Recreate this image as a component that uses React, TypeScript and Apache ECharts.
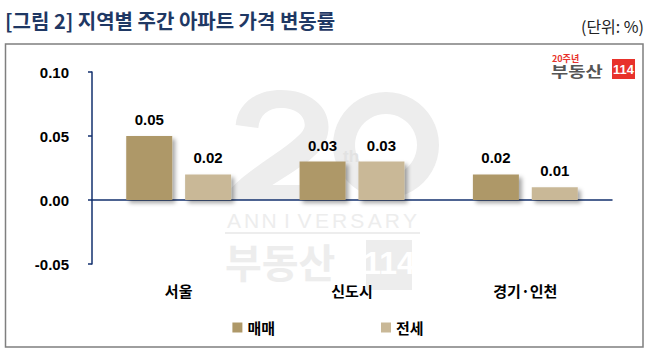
import React, { useEffect, useRef } from "react";
import * as echarts from "echarts";

const titleText = "[그림 2] 지역별 주간 아파트 가격 변동률";
const unitText = "(단위: %)";
const categories = ["서울", "신도시", "경기·인천"];
const seriesNames = ["매매", "전세"];
const saleValues = [0.05, 0.03, 0.02];
const jeonseValues = [0.02, 0.03, 0.01];
const yMin = -0.05;
const yMax = 0.1;
const yInterval = 0.05;

const NAVY = "#13306e";
const SALE = "#ae9868";
const JEONSE = "#c9b897";
const WM = "#ededed";
const KR = "'Noto Sans CJK KR', 'Noto Sans', sans-serif";
const LAT = "'Liberation Sans', Arial, sans-serif";

const TWO_PATH =
  "M 8 35 C 10 12 28 0 50 0 C 76 0 94 16 94 37 C 94 58 78 70 58 84 L 42 95 L 96 95 L 96 110 L 4 110 L 4 98 C 18 82 40 68 56 55 C 68 45 72 40 72 35 C 72 25 63 18 50 18 C 38 18 30 25 29 38 Z";

let registered = false;
function ensureShapes() {
  if (registered) return;
  echarts.graphic.registerShape("wmtwo", echarts.graphic.extendPath(TWO_PATH, {}));
  registered = true;
}

export default function App() {
  const ref = useRef<HTMLDivElement>(null);
  useEffect(() => {
    if (!ref.current) return;
    ensureShapes();
    const chart = echarts.init(ref.current, undefined, { renderer: "svg" });
    const anniv = "ANNIVERSARY".split("");
    const letterGraphics = anniv.map((ch, i) => ({
      type: "text",
      z: 0,
      x: 234 + i * 17.6,
      y: 220,
      style: {
        text: ch,
        fill: WM,
        font: `21px ${LAT}`,
        textAlign: "center",
        textVerticalAlign: "middle",
      },
    }));
    const shadow = {
      shadowColor: "rgba(0,0,0,0.35)",
      shadowBlur: 4,
      shadowOffsetX: 3,
      shadowOffsetY: 3,
    };
    const barLabel = {
      show: true,
      position: "top",
      distance: 9,
      color: "#000000",
      fontWeight: "bold",
      fontSize: 15,
      fontFamily: LAT,
      formatter: (p: any) => p.value.toFixed(2),
    };
    chart.setOption({
      animation: false,
      backgroundColor: "#ffffff",
      graphic: [
        {
          type: "rect",
          z: 0,
          shape: { x: 5.5, y: 44, width: 637.5, height: 303 },
          style: { fill: "none", stroke: "#7f7f7f", lineWidth: 1.5 },
        },
        {
          type: "text",
          x: 5,
          y: 20,
          style: {
            text: titleText,
            fill: "#1f3864",
            font: `bold 20px ${KR}`,
            textVerticalAlign: "middle",
          },
        },
        {
          type: "text",
          x: 644,
          y: 26,
          style: {
            text: unitText,
            fill: "#222222",
            font: `16px ${KR}`,
            textAlign: "right",
            textVerticalAlign: "middle",
          },
        },
        // logo
        {
          type: "text",
          x: 552,
          y: 58,
          style: {
            text: "20주년",
            fill: "#e8322b",
            font: `bold 9px ${KR}`,
            textVerticalAlign: "middle",
          },
        },
        {
          type: "text",
          x: 551,
          y: 70,
          scaleX: 1.25,
          style: {
            text: "부동산",
            fill: "#555555",
            font: `bold 15px ${KR}`,
            textVerticalAlign: "middle",
          },
        },
        {
          type: "rect",
          shape: { x: 612, y: 59, width: 23, height: 20 },
          style: { fill: "#e8322b" },
        },
        {
          type: "text",
          x: 623.5,
          y: 69,
          style: {
            text: "114",
            fill: "#ffffff",
            font: `bold 13px ${LAT}`,
            textAlign: "center",
            textVerticalAlign: "middle",
          },
        },
        // watermark
        {
          type: "wmtwo",
          z: 0,
          x: 227,
          y: 90,
          scaleX: 1.08,
          scaleY: 1.0,
          style: { fill: WM },
        },
        {
          type: "ring",
          z: 0,
          shape: { cx: 386, cy: 145, r: 53, r0: 31 },
          style: { fill: WM },
        },
        {
          type: "text",
          z: 0,
          x: 351,
          y: 156,
          style: {
            text: "th",
            fill: "#e2e2e2",
            font: `bold 17px ${LAT}`,
            lineHeight: 10,
            textAlign: "center",
            textVerticalAlign: "middle",
          },
        },
        ...letterGraphics,
        {
          type: "line",
          z: 0,
          shape: { x1: 225, y1: 233, x2: 420, y2: 233 },
          style: { stroke: WM, lineWidth: 2 },
        },
        {
          type: "text",
          z: 0,
          x: 225,
          y: 261,
          style: {
            text: "부동산",
            fill: WM,
            font: `bold 40px ${KR}`,
            lineHeight: 30,
            textVerticalAlign: "middle",
          },
        },
        {
          type: "rect",
          z: 0,
          shape: { x: 366, y: 240, width: 46, height: 50 },
          style: { fill: WM },
        },
        {
          type: "text",
          z: 0,
          x: 389,
          y: 263,
          style: {
            text: "114",
            fill: "#ffffff",
            font: `bold 32px ${LAT}`,
            lineHeight: 30,
            textAlign: "center",
            textVerticalAlign: "middle",
          },
        },
      ],
      legend: {
        bottom: 22,
        left: "center",
        itemWidth: 10,
        itemHeight: 10,
        itemGap: 106,
        icon: "rect",
        data: seriesNames,
        textStyle: {
          color: "#000000",
          fontWeight: "bold",
          fontSize: 15,
          fontFamily: KR,
          padding: [0, 0, 0, 0],
        },
      },
      grid: { left: 92, right: 44, top: 72, bottom: 98 },
      xAxis: {
        type: "category",
        data: categories,
        axisLine: { onZero: true, lineStyle: { color: NAVY, width: 1.5 } },
        axisTick: { inside: true, length: 4, lineStyle: { color: NAVY, width: 1.5 } },
        axisLabel: {
          margin: 19,
          color: "#000000",
          fontWeight: "bold",
          fontSize: 15,
          fontFamily: KR,
        },
      },
      yAxis: {
        type: "value",
        min: yMin,
        max: yMax,
        interval: yInterval,
        splitLine: { show: false },
        axisLine: { show: true, lineStyle: { color: NAVY, width: 1.5 } },
        axisTick: { show: true, length: 4, lineStyle: { color: NAVY, width: 1.5 } },
        axisLabel: {
          margin: 23,
          color: "#000000",
          fontWeight: "bold",
          fontSize: 15,
          fontFamily: LAT,
          formatter: (v: number) => v.toFixed(2),
        },
      },
      series: [
        {
          name: seriesNames[0],
          type: "bar",
          data: saleValues,
          barWidth: 46,
          barGap: "28%",
          itemStyle: { color: SALE, ...shadow },
          label: barLabel,
        },
        {
          name: seriesNames[1],
          type: "bar",
          data: jeonseValues,
          barWidth: 46,
          itemStyle: { color: JEONSE, ...shadow },
          label: barLabel,
        },
      ],
    });
    return () => chart.dispose();
  }, []);
  return (
    <div
      ref={ref}
      style={{ width: 656, height: 362, position: "fixed", left: 0, top: 0 }}
    />
  );
}
